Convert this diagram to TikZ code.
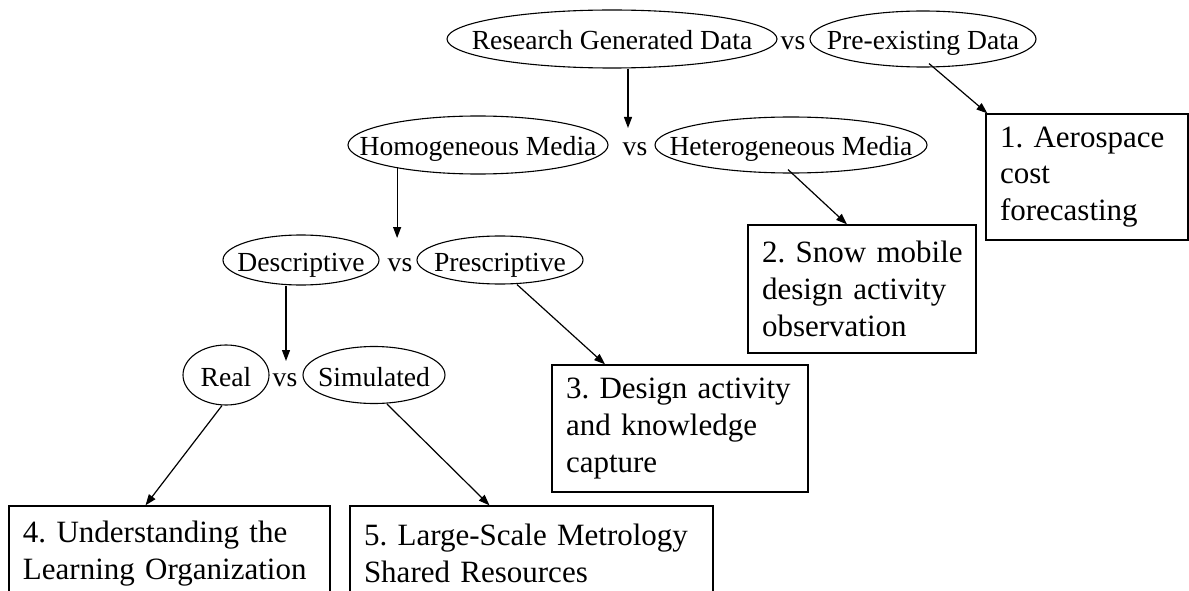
\documentclass[tikz,border=0pt]{standalone}
\usepackage{fontspec}
\setmainfont{Liberation Serif}
\usetikzlibrary{shapes.geometric,arrows.meta}
% text of an oval: zero width so the oval keeps its given size
\newcommand\ovaltext[1]{\makebox[0pt]{#1}}
% one unbreakable line of a case box
\newcommand\cardline[1]{\mbox{#1}}
\frenchspacing
\hyphenpenalty=10000
\begin{document}
\begin{tikzpicture}[x=1pt,y=-1pt,
  oval/.style={ellipse,draw,line width=1.1pt,inner sep=0pt,
    text height=22pt,text depth=0pt,font=\fontsize{27.6}{33}\selectfont},
  vslabel/.style={inner sep=0pt,anchor=base,font=\fontsize{27.6}{33}\selectfont},
  card/.style={rectangle,draw,line width=1.3pt,inner xsep=14pt,inner ysep=0pt,
    align=left,font=\fontsize{31}{36.8}\selectfont},
  arr/.style={line width=1.2pt,-{Triangle[length=11pt,width=8pt]}}]
\useasboundingbox (0,0) rectangle (1189,591);

% level 1
\node[oval,minimum width=330pt,minimum height=58pt] (rgd) at (612,39) {\ovaltext{Research Generated Data}};
\node[vslabel] (v1) at (793,50) {vs};
\node[oval,minimum width=226pt,minimum height=56pt] (pex) at (923,39) {\ovaltext{Pre-existing Data}};

% level 2
\node[oval,minimum width=260pt,minimum height=58pt] (hom) at (478,145) {\ovaltext{Homogeneous Media}};
\node[vslabel] (v2) at (635,156) {vs};
\node[oval,minimum width=272pt,minimum height=56pt] (het) at (791,145) {\ovaltext{Heterogeneous Media}};

% level 3
\node[oval,minimum width=156pt,minimum height=50pt] (dsc) at (301,260) {\ovaltext{Descriptive}};
\node[vslabel] (v3) at (400,271) {vs};
\node[oval,minimum width=166pt,minimum height=48pt] (prs) at (500,260) {\ovaltext{Prescriptive}};

% level 4
\node[oval,minimum width=86pt,minimum height=60pt] (real) at (226,375) {\ovaltext{Real}};
\node[vslabel] (v4) at (285,386) {vs};
\node[oval,minimum width=142pt,minimum height=57pt] (sim) at (374,375) {\ovaltext{Simulated}};

% case boxes
\node[card,text width=174pt,minimum height=126pt] (b1) at (1087,177)
  {\cardline{1. Aerospace}\\\cardline{cost}\\\cardline{forecasting}};
\node[card,text width=200pt,minimum height=128pt] (b2) at (862,289)
  {\cardline{2. Snow mobile}\\\cardline{design activity}\\\cardline{observation}};
\node[card,text width=228pt,minimum height=127pt] (b3) at (680,428.5)
  {\cardline{3. Design activity}\\\cardline{and knowledge}\\\cardline{capture}};
\node[card,text width=293pt,minimum height=95pt] (b4) at (169.5,553.5)
  {\cardline{4. Understanding the}\\\cardline{Learning Organization}};
\node[card,text width=335pt,minimum height=95pt] (b5) at (531.5,553.5)
  {\cardline{5. Large-Scale Metrology}\\\cardline{Shared Resources}};

% refinement arrows
\coordinate (t1) at (628,128);
\draw[arr] (rgd.south -| t1) -- (t1);
\coordinate (t2) at (398,238);
\draw[arr] (hom.196) -- (hom.196 |- t2);
\coordinate (t3) at (286,361);
\draw[arr] (dsc.south -| t3) -- (t3);

% arrows to the cases
\draw[arr] ([xshift=6pt,yshift=4pt]pex.south) -- ([xshift=2pt]b1.north west);
\draw[arr] ([xshift=-3pt,yshift=4pt]het.south) -- ([xshift=-15pt]b2.north);
\draw[arr] ([xshift=17pt]prs.south) -- ([xshift=-75pt]b3.north);
\draw[arr] ([xshift=-4pt]real.south) -- ([xshift=-24pt]b4.north);
\draw[arr] ([xshift=13pt]sim.south) -- ([xshift=-42pt]b5.north);
\end{tikzpicture}
\end{document}
